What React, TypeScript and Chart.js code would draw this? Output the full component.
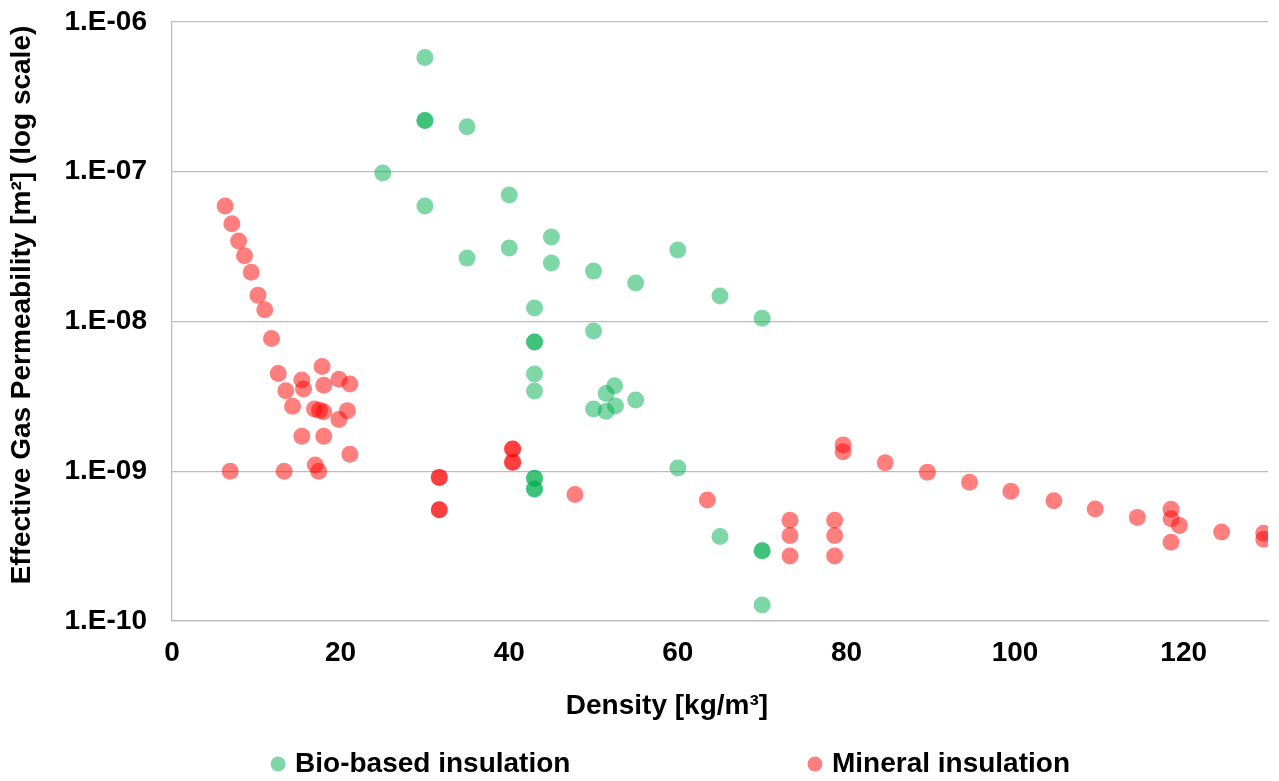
import React, { useEffect, useRef } from 'react';
import { Chart, registerables } from 'chart.js';

Chart.register(...registerables);

const seriesNames = ['Bio-based insulation', 'Mineral insulation'];
const seriesColors = ['rgba(0,176,80,0.5)', 'rgba(255,0,0,0.5)'];

const bioDensity = [
  30, 30, 30, 35, 25, 30, 40, 40, 35, 45, 45, 50, 55, 60, 65, 70,
  43, 43, 43, 43, 43, 50, 50, 51.5, 52.5, 51.5, 52.6, 55, 60,
  43, 43, 43, 43, 65, 70, 70, 70,
];
const bioPermeability = [
  5.8e-7, 2.2e-7, 2.2e-7, 2.0e-7, 9.8e-8, 5.9e-8, 7.0e-8, 3.1e-8, 2.65e-8, 3.67e-8, 2.46e-8, 2.17e-8, 1.81e-8, 3.0e-8, 1.48e-8, 1.05e-8,
  1.23e-8, 7.3e-9, 7.3e-9, 4.46e-9, 3.43e-9, 8.65e-9, 2.6e-9, 3.3e-9, 3.72e-9, 2.52e-9, 2.73e-9, 2.99e-9, 1.05e-9,
  8.97e-10, 8.97e-10, 7.6e-10, 7.6e-10, 3.67e-10, 2.95e-10, 2.95e-10, 1.28e-10,
];

const mineralDensity = [
  6.3, 7.1, 7.9, 8.6, 9.4, 10.2, 11.0, 11.8, 12.6, 15.4, 15.6, 13.5, 17.8, 18.0, 19.8, 21.1,
  14.3, 16.9, 17.5, 18.0, 20.8, 19.8, 15.4, 18.0, 21.1, 6.9, 13.3, 17.0, 17.4,
  40.4, 40.4, 40.4, 40.4, 31.7, 31.7, 31.7, 31.7, 47.8, 63.5,
  73.3, 73.3, 73.3, 78.6, 78.6, 78.6, 79.6, 79.6, 84.6, 89.6, 94.6, 99.5, 104.6, 109.5, 114.5,
  118.5, 118.5, 119.5, 118.5, 124.5, 129.5, 129.5,
];
const mineralPermeability = [
  5.9e-8, 4.5e-8, 3.45e-8, 2.75e-8, 2.13e-8, 1.5e-8, 1.2e-8, 7.7e-9, 4.5e-9, 4.07e-9, 3.54e-9, 3.45e-9, 5.0e-9, 3.75e-9, 4.11e-9, 3.83e-9,
  2.72e-9, 2.6e-9, 2.55e-9, 2.5e-9, 2.54e-9, 2.22e-9, 1.71e-9, 1.71e-9, 1.3e-9, 1.0e-9, 1.0e-9, 1.1e-9, 1.0e-9,
  1.41e-9, 1.41e-9, 1.15e-9, 1.15e-9, 9.1e-10, 9.1e-10, 5.53e-10, 5.53e-10, 7.0e-10, 6.43e-10,
  4.7e-10, 3.72e-10, 2.72e-10, 4.7e-10, 3.72e-10, 2.72e-10, 1.5e-9, 1.35e-9, 1.14e-9, 9.84e-10, 8.44e-10, 7.34e-10, 6.36e-10, 5.6e-10, 4.92e-10,
  5.57e-10, 4.82e-10, 4.35e-10, 3.36e-10, 3.93e-10, 3.85e-10, 3.51e-10,
];

const xTicks = [0, 20, 40, 60, 80, 100, 120];
const yTicks = [1e-10, 1e-9, 1e-8, 1e-7, 1e-6];
const yTickLabels = ['1.E-10', '1.E-09', '1.E-08', '1.E-07', '1.E-06'];
const xTitle = 'Density [kg/m³]';
const yTitle = 'Effective Gas Permeability [m²] (log scale)';

const FONT_FAMILY = '"Liberation Sans", Arial, Helvetica, sans-serif';
const FONT = `bold 28px ${FONT_FAMILY}`;
const GRID = '#bdbdbd';

const overlayPlugin = {
  id: 'overlayText',
  afterDraw(chart: any) {
    const { ctx, chartArea: a } = chart;
    ctx.save();
    ctx.font = FONT;
    ctx.fillStyle = '#000';
    ctx.textBaseline = 'middle';
    // x axis title
    ctx.textAlign = 'center';
    ctx.fillText(xTitle, a.left + (a.right - a.left) * 0.4516, chart.height - 75);
    // y axis title
    ctx.save();
    ctx.translate(22, a.top + (a.bottom - a.top) * 0.4725);
    ctx.rotate(-Math.PI / 2);
    ctx.fillText(yTitle, 0, 0);
    ctx.restore();
    // legend
    const legendX = [0.2174, 0.6372];
    const ly = chart.height - 17;
    chart.data.datasets.forEach((ds: any, i: number) => {
      const mx = chart.width * legendX[i];
      ctx.beginPath();
      ctx.fillStyle = ds.backgroundColor;
      ctx.arc(mx, ly, 7.5, 0, Math.PI * 2);
      ctx.fill();
      ctx.fillStyle = '#000';
      ctx.textAlign = 'left';
      ctx.fillText(ds.label, mx + 17, ly);
    });
    ctx.restore();
  },
};

export default function App() {
  const ref = useRef<HTMLCanvasElement>(null);
  useEffect(() => {
    document.body.style.margin = '0';
    const toPoints = (xs: number[], ys: number[]) => xs.map((x, i) => ({ x, y: ys[i] }));
    const chart = new Chart(ref.current as HTMLCanvasElement, {
      type: 'scatter',
      data: {
        datasets: [
          {
            label: seriesNames[0],
            data: toPoints(bioDensity, bioPermeability),
            backgroundColor: seriesColors[0],
            borderWidth: 0,
            pointRadius: 8.5,
            pointHoverRadius: 8.5,
          },
          {
            label: seriesNames[1],
            data: toPoints(mineralDensity, mineralPermeability),
            backgroundColor: seriesColors[1],
            borderWidth: 0,
            pointRadius: 8.5,
            pointHoverRadius: 8.5,
          },
        ],
      },
      options: {
        animation: false,
        responsive: true,
        maintainAspectRatio: false,
        layout: { padding: { left: 0, right: 11, top: 22, bottom: 50 } },
        plugins: {
          legend: { display: false },
          tooltip: { enabled: false },
        },
        scales: {
          x: {
            type: 'linear',
            min: 0,
            max: 130,
            afterBuildTicks: (s: any) => {
              s.ticks = xTicks.map((v) => ({ value: v }));
            },
            afterFit: (s: any) => {
              s.height = 110;
            },
            grid: { display: false, drawTicks: false },
            border: { display: true, color: GRID, width: 1.3 },
            ticks: {
              padding: 15,
              color: '#000',
              font: { family: FONT_FAMILY, size: 28, weight: 'bold' },
              maxRotation: 0,
            },
          },
          y: {
            type: 'logarithmic',
            min: 1e-10,
            max: 1e-6,
            afterBuildTicks: (s: any) => {
              s.ticks = yTicks.map((v) => ({ value: v }));
            },
            afterFit: (s: any) => {
              s.width = 172;
              s.paddingTop = 0;
              s.paddingBottom = 0;
            },
            grid: { color: GRID, lineWidth: 1.3, drawTicks: false },
            border: { display: true, color: GRID, width: 1.3 },
            ticks: {
              padding: 25,
              color: '#000',
              font: { family: FONT_FAMILY, size: 28, weight: 'bold' },
              callback: (v: any) => {
                const i = yTicks.findIndex((t) => Math.abs(Math.log10(t) - Math.log10(Number(v))) < 1e-6);
                return i >= 0 ? yTickLabels[i] : '';
              },
            },
          },
        },
      },
      plugins: [overlayPlugin],
    } as any);
    return () => chart.destroy();
  }, []);
  return (
    <div style={{ width: 1279, height: 781, position: 'relative' }}>
      <canvas ref={ref} />
    </div>
  );
}
